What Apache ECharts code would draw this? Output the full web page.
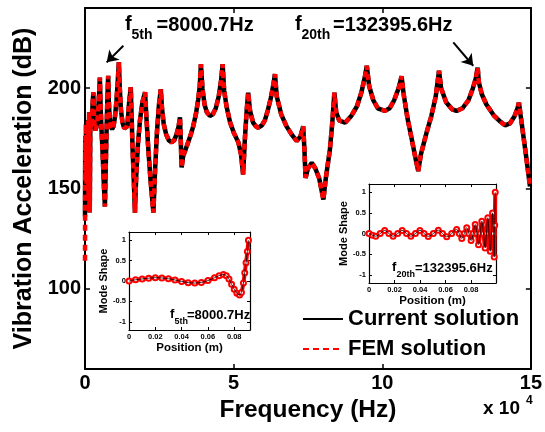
<!DOCTYPE html>
<html><head><meta charset="utf-8">
<script src="https://cdn.jsdelivr.net/npm/echarts@6/dist/echarts.min.js"></script>
<style>html,body{margin:0;padding:0;background:#fff}#c{width:545px;height:432px}</style>
</head><body><div id="c"></div>
<script>
// Frequency in units of 1e4 Hz
const freq = [0.000,0.008,0.020,0.035,0.050,0.065,0.080,0.100,0.120,0.140,0.160,0.180,0.200,0.220,0.240,0.260,0.280,0.300,0.320,0.350,0.380,0.410,0.440,0.470,0.500,0.530,0.560,0.600,0.640,0.670,0.700,0.730,0.755,0.780,0.800,0.830,0.870,0.910,0.960,1.010,1.060,1.100,1.140,1.170,1.210,1.260,1.320,1.380,1.420,1.450,1.490,1.540,1.560,1.600,1.640,1.680,1.720,1.780,1.850,1.930,2.020,2.060,2.120,2.200,2.300,2.360,2.420,2.490,2.550,2.590,2.650,2.730,2.820,2.920,3.000,3.080,3.150,3.195,3.220,3.250,3.300,3.420,3.540,3.640,3.730,3.810,3.860,3.900,3.950,4.020,4.100,4.200,4.300,4.400,4.500,4.580,4.630,4.680,4.760,4.880,5.000,5.160,5.250,5.320,5.380,5.440,5.490,5.550,5.650,5.750,5.830,5.950,6.050,6.150,6.250,6.340,6.390,6.450,6.600,6.780,6.950,7.120,7.250,7.340,7.380,7.420,7.500,7.630,7.750,7.880,7.960,8.020,8.100,8.240,8.320,8.390,8.450,8.550,8.750,8.950,9.150,9.300,9.420,9.480,9.560,9.700,9.850,10.090,10.250,10.400,10.550,10.650,10.720,10.850,11.000,11.120,11.210,11.300,11.490,11.650,11.800,11.910,11.980,12.150,12.350,12.500,12.700,12.900,13.050,13.150,13.210,13.250,13.350,13.500,13.750,14.000,14.130,14.300,14.450,14.550,14.600,14.650,14.750,14.850,14.970];
const currentDB = [136,176,156,182,152,180,153,184,146,188,138,183,180,184,188,193,198,187,182,179,179,182,188,196,205.3,189,178,165,150,141,162,182,196,206.2,194,185,181,179.5,181,186,194,203,213,200,189,183,180,179.5,181,186,194,200.5,190,170,155,138,155,172,184,193,198,187,172,155,138,160,178,192,199.5,190,182,177,174,173,174,177,181,185.5,175,160.5,166,171,176,181,187,194.5,201,212,200,192,188,186.2,187,190,196,204,212,199,191,183,178,173,167,157,175,189,197.8,189,183,181,180.3,181.5,184,189,195,202,207,196,187,181,177,173.7,176,181,170,155.3,160,162.8,160,155,149,144.5,155,169.5,183,197.8,188,184,182.8,186,191,198,206,211.2,201,194,190,188.7,190,194,200,206,197,185,174,165,158.7,167,177.8,186,196,208.7,200,193,189.5,188.7,190,194,200,205,210.3,203,197,192,186.5,183,181.5,182.5,186,190,192.8,187,176,165,151];
const femDB = [114,176,156,182,152,180,153,184,146,188,138,183,180,184,188,193,198,187,182,179,179,182,188,196,205.3,189,178,165,150,141,162,182,196,206.2,194,185,181,179.5,181,186,194,203,213,200,189,183,180,179.5,181,186,194,200.5,190,170,155,138,155,172,184,193,198,187,172,155,138,160,178,192,199.5,190,182,177,174,173,174,177,181,185.5,175,160.5,166,171,176,181,187,194.5,201,212,200,192,188,186.2,187,190,196,204,212,199,191,183,178,173,167,157,175,189,197.8,189,183,181,180.3,181.5,184,189,195,202,207,196,187,181,177,173.7,176,181,170,155.3,160,162.8,160,155,149,144.5,155,169.5,183,197.8,188,184,182.8,186,191,198,206,211.2,201,194,190,188.7,190,194,200,206,197,185,174,165,158.7,167,177.8,186,196,208.7,200,193,189.5,188.7,190,194,200,205,210.3,203,197,192,186.5,183,181.5,182.5,186,190,192.8,187,176,165,151];
const xTicks = [0, 5, 10, 15];
const yTicks = [100, 150, 200];

// Inset: mode shape at f5th
const pos5 = [0,0.005,0.01,0.015,0.02,0.025,0.03,0.035,0.04,0.045,0.05,0.055,0.06,0.065,0.0685,0.0718,0.074,0.076,0.078,0.080,0.082,0.0841,0.0855,0.087,0.088,0.089,0.090,0.0908];
const shape5 = [0,0.03,0.05,0.07,0.08,0.075,0.055,0.025,-0.01,-0.04,-0.05,-0.035,0.01,0.08,0.13,0.16,0.13,0.05,-0.08,-0.2,-0.3,-0.34,-0.28,-0.05,0.2,0.45,0.72,1.0];
// Inset: mode shape at f20th
const pos20 = [0,0.0027,0.0053,0.0088,0.0123,0.0156,0.0189,0.0225,0.026,0.0294,0.0328,0.0364,0.0399,0.0432,0.0464,0.0504,0.0543,0.0576,0.0609,0.0648,0.0687,0.0707,0.0727,0.0747,0.0766,0.0783,0.08,0.0816,0.0832,0.0845,0.0858,0.0871,0.0884,0.0897,0.091,0.092,0.0931,0.094,0.095,0.0959,0.0968,0.0975,0.0981,0.0985,0.0989];
const shape20 = [0,-0.04,-0.065,0,0.075,0,-0.065,0,0.075,0,-0.065,0,0.075,0,-0.07,0,0.08,0,-0.08,0,0.1,0,-0.12,0,0.14,0,-0.17,0,0.22,0,-0.27,0,0.3,0,-0.35,0,0.38,0,-0.43,0,0.5,0,-0.57,0.2,1.0];
const insetXTicks = [0, 0.02, 0.04, 0.06, 0.08];
const insetYTicks = [-1, -0.5, 0, 0.5, 1];

const FONT = 'Liberation Sans, Arial, sans-serif';
const zip = (a, b) => a.map((v, i) => [v, b[i]]);

const chart = echarts.init(document.getElementById('c'), null, {renderer: 'canvas'});

function mainAxisX(pos, showLabel) {
  return {
    type: 'value', gridIndex: 0, position: pos, min: 0, max: 15, interval: 5,
    axisLine: {show: true, onZero: false, lineStyle: {color: '#000', width: 2}},
    axisTick: {show: true, inside: true, length: 5, lineStyle: {color: '#000', width: 1.5}},
    axisLabel: {show: showLabel, color: '#000', fontSize: 20, fontWeight: 'bold', fontFamily: FONT, margin: 4},
    splitLine: {show: false}
  };
}
function mainAxisY(pos, showLabel) {
  return {
    type: 'value', gridIndex: 0, position: pos, min: 60, max: 240,
    axisLine: {show: true, onZero: false, lineStyle: {color: '#000', width: 2}},
    axisTick: {show: true, inside: true, length: 5, customValues: yTicks, lineStyle: {color: '#000', width: 1.5}},
    axisLabel: {show: showLabel, customValues: yTicks, color: '#000', fontSize: 20, fontWeight: 'bold', fontFamily: FONT, margin: 4},
    splitLine: {show: false}
  };
}
function insetX(g, pos, showLabel, max) {
  return {
    type: 'value', gridIndex: g, position: pos, min: 0, max: max,
    name: showLabel ? 'Position (m)' : '', nameLocation: 'middle', nameGap: 10,
    nameTextStyle: {color: '#000', fontSize: 11.5, fontWeight: 'bold', fontFamily: FONT},
    axisLine: {show: true, onZero: false, lineStyle: {color: '#000', width: 1.2}},
    axisTick: {show: true, inside: true, length: 3, customValues: insetXTicks, lineStyle: {color: '#000', width: 1}},
    axisLabel: {show: showLabel, customValues: insetXTicks, color: '#000', fontSize: 7.5, fontWeight: 'bold', fontFamily: FONT, margin: 3},
    splitLine: {show: false}
  };
}
function insetY(g, pos, showLabel) {
  return {
    type: 'value', gridIndex: g, position: pos, min: -1.2, max: 1.2,
    name: showLabel ? 'Mode Shape' : '', nameLocation: 'middle', nameGap: 16,
    nameTextStyle: {color: '#000', fontSize: 11, fontWeight: 'bold', fontFamily: FONT},
    axisLine: {show: true, onZero: false, lineStyle: {color: '#000', width: 1.2}},
    axisTick: {show: true, inside: true, length: 3, customValues: insetYTicks, lineStyle: {color: '#000', width: 1}},
    axisLabel: {show: showLabel, customValues: insetYTicks, color: '#000', fontSize: 7.5, fontWeight: 'bold', fontFamily: FONT, margin: 3},
    splitLine: {show: false}
  };
}

function txt(x, y, s, size, align) {
  return {type: 'text', x: x, y: y, z: 100, style: {text: s, fill: '#000', font: 'bold ' + size + 'px ' + FONT, align: align || 'left', verticalAlign: 'middle'}};
}

function insetSeries(name, xi, yi, px, py, sm) {
  return [
    {name: name + ' FEM', type: 'line', xAxisIndex: xi, yAxisIndex: yi, data: zip(px, py), smooth: sm,
     symbol: 'emptyCircle', symbolSize: 5, showSymbol: true, showAllSymbol: true,
     itemStyle: {color: '#ff0000', borderWidth: 1.2},
     lineStyle: {color: '#ff0000', width: 4}, z: 10, silent: true, animation: false},
    {name: name + ' Current', type: 'line', xAxisIndex: xi, yAxisIndex: yi, data: zip(px, py), smooth: sm,
     symbol: 'none', lineStyle: {color: '#000', width: 0.8}, z: 11, silent: true, animation: false}
  ];
}

const option = {
  backgroundColor: '#fff',
  animation: false,
  grid: [
    {left: 85, top: 8, width: 446, height: 361, show: false},
    {left: 129, top: 232, width: 121, height: 98, show: true, backgroundColor: '#fff', borderWidth: 0},
    {left: 369, top: 184, width: 127, height: 99, show: true, backgroundColor: '#fff', borderWidth: 0}
  ],
  xAxis: [
    Object.assign(mainAxisX('bottom', true), {name: 'Frequency (Hz)', nameLocation: 'middle', nameGap: 20,
      nameTextStyle: {color: '#000', fontSize: 24.5, fontWeight: 'bold', fontFamily: FONT}}),
    mainAxisX('top', false),
    insetX(1, 'bottom', true, 0.092),
    insetX(1, 'top', false, 0.092),
    insetX(2, 'bottom', true, 0.0995),
    insetX(2, 'top', false, 0.0995)
  ],
  yAxis: [
    Object.assign(mainAxisY('left', true), {name: 'Vibration Acceleration (dB)', nameLocation: 'middle', nameGap: 48,
      nameTextStyle: {color: '#000', fontSize: 25, fontWeight: 'bold', fontFamily: FONT}}),
    mainAxisY('right', false),
    insetY(1, 'left', true),
    insetY(1, 'right', false),
    insetY(2, 'left', true),
    insetY(2, 'right', false)
  ],
  legend: {
    data: ['Current solution', 'FEM solution'],
    orient: 'vertical', left: 297, top: 303, itemWidth: 40, itemHeight: 14, itemGap: 8,
    itemStyle: {opacity: 0},
    textStyle: {color: '#000', fontSize: 22, fontWeight: 'bold', fontFamily: FONT},
    selectedMode: false
  },
  series: [
    {name: 'Current solution', type: 'line', xAxisIndex: 0, yAxisIndex: 0, data: zip(freq, currentDB),
     symbol: 'none', lineStyle: {color: '#000', width: 4.5}, z: 3,
     markLine: {silent: true, symbol: ['none', 'arrow'], symbolSize: [11, 11], animation: false,
       lineStyle: {color: '#000', width: 2, type: 'solid'}, label: {show: false},
       data: [
         [{coord: [1.29, 221.2]}, {coord: [0.73, 212.9]}],
         [{coord: [12.39, 222.9]}, {coord: [13.06, 211.2]}]
       ]}},
    {name: 'FEM solution', type: 'line', xAxisIndex: 0, yAxisIndex: 0, data: zip(freq, femDB),
     symbol: 'none', lineStyle: {color: '#ff0000', width: 4.5, type: [6, 4]}, z: 4},
    ...insetSeries('s5', 2, 2, pos5, shape5, 0.3),
    ...insetSeries('s20', 4, 4, pos20, shape20, 0.4)
  ],
  graphic: [
    txt(125, 24, 'f', 20), txt(131.5, 35, '5th', 14), txt(156.5, 25, '=8000.7Hz', 20),
    txt(295, 24, 'f', 20), txt(301.5, 35, '20th', 14), txt(333, 25, '=132395.6Hz', 20),
    txt(170, 314, 'f', 13), txt(174.5, 322, '5th', 9), txt(187, 315, '=8000.7Hz', 13),
    txt(392, 267, 'f', 13), txt(396.5, 275, '20th', 9), txt(415, 268, '=132395.6Hz', 13),
    txt(483, 409, 'x 10', 19), txt(526, 401, '4', 12)
  ]
};
chart.setOption(option);
</script></body></html>
